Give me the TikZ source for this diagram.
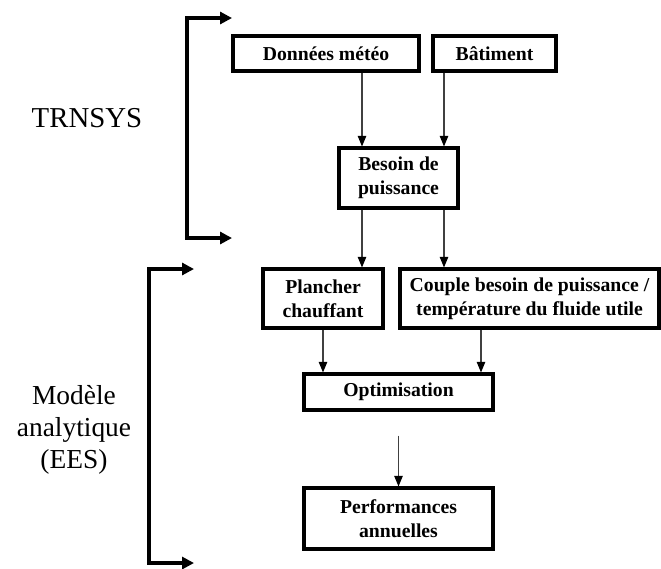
\documentclass[tikz,border=0pt]{standalone}
\usepackage{fontspec}
\setmainfont{Liberation Serif}
\usetikzlibrary{arrows.meta}

\begin{document}
\begin{tikzpicture}[x=0.025cm, y=-0.025cm]
	\def\px{0.025cm}
	\colorlet{box edge}{black}
	\colorlet{flow line}{black!75}

	\tikzset{
		etape/.style={draw=box edge, line width=2.2pt, inner sep=0pt, align=center,
			font=\bfseries\fontsize{14}{17}\selectfont},
		flow/.style={draw=flow line, line width=0.8pt, -{Triangle[length=7.5pt,width=6pt,color=black]}},
		bracket/.style={draw=black, line width=2.2pt,
			{Triangle[length=8.5pt,width=8.5pt]}-{Triangle[length=8.5pt,width=8.5pt]}},
		outil/.style={font=\fontsize{19.5}{23}\selectfont, align=center},
	}

	\useasboundingbox (0,0) rectangle (661,568);

	% boites
	\node[etape, minimum width=186*\px, minimum height=35*\px] (meteo) at (326,53.5) {Données météo};
	\node[etape, minimum width=123*\px, minimum height=35*\px] (batiment) at (494.5,53.5) {Bâtiment};
	\node[etape, minimum width=119*\px, minimum height=60*\px] (besoin) at (398.5,178) {Besoin de\\puissance};
	\node[etape, minimum width=120*\px, minimum height=59*\px] (plancher) at (323,298.5) {Plancher\\chauffant};
	\node[etape, minimum width=259*\px, minimum height=59*\px] (couple) at (529.5,298.5) {Couple besoin de puissance /\\température du fluide utile};
	\node[etape, minimum width=189*\px, minimum height=36*\px] (optim) at (398.5,392) {Optimisation};
	\node[etape, minimum width=189*\px, minimum height=61*\px] (perf) at (398.5,518.5) {Performances\\annuelles};

	% colonnes des fleches
	\coordinate (colA) at (362,0);
	\coordinate (colB) at (444,0);
	\coordinate (colC) at (481,0);

	\draw[flow] (meteo.south -| colA) -- (besoin.north -| colA);
	\draw[flow] (batiment.south -| colB) -- (besoin.north -| colB);
	\draw[flow] (besoin.south -| colA) -- (plancher.north -| colA);
	\draw[flow] (besoin.south -| colB) -- (couple.north -| colB);
	\draw[flow] (plancher.south) -- (plancher.south |- optim.north);
	\draw[flow] (couple.south -| colC) -- (optim.north -| colC);
	\draw[flow, shorten <=24*\px] (optim.south) -- (perf.north);

	% outils
	\coordinate (trnTop) at (232,18);
	\coordinate (trnBot) at (232,238);
	\coordinate (eesTop) at (194,269);
	\coordinate (eesBot) at (194,563);
	\draw[bracket] (trnTop) -- ++(-45,0) |- (trnBot);
	\draw[bracket] (eesTop) -- ++(-45,0) |- (eesBot);

	\node[outil, anchor=base, font=\fontsize{20.5}{23}\selectfont] (trnsys) at (87,127) {TRNSYS};
	\node[outil] (ees) at (74,430) {Modèle\\analytique\\(EES)};
\end{tikzpicture}
\end{document}
